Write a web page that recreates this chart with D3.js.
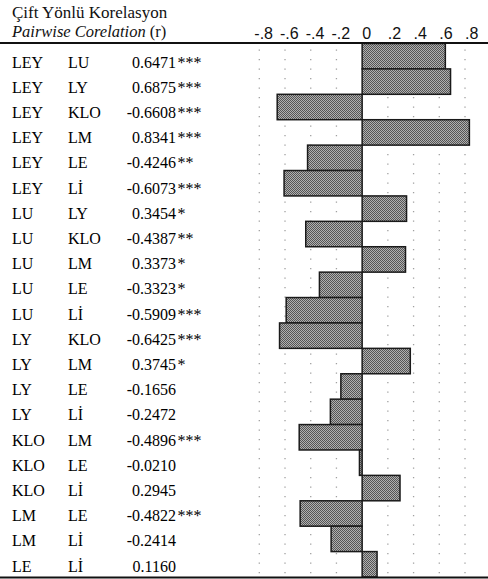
<!DOCTYPE html>
<html>
<head>
<meta charset="utf-8">
<script src="https://cdn.jsdelivr.net/npm/d3@7"></script>
<style>
    body { margin: 0; background: #fff; }
    svg { display: block; }
</style>
</head>
<body>
<div id="chart"></div>
<script>
"use strict";

// data
const var1 = ["LEY", "LEY", "LEY", "LEY", "LEY", "LEY", "LU", "LU", "LU", "LU", "LU", "LY", "LY", "LY", "LY", "KLO", "KLO", "KLO", "LM", "LM", "LE"];
const var2 = ["LU", "LY", "KLO", "LM", "LE", "Lİ", "LY", "KLO", "LM", "LE", "Lİ", "KLO", "LM", "LE", "Lİ", "LM", "LE", "Lİ", "LE", "Lİ", "Lİ"];
const corr = [0.6471, 0.6875, -0.6608, 0.8341, -0.4246, -0.6073, 0.3454, -0.4387, 0.3373, -0.3323, -0.5909, -0.6425, 0.3745, -0.1656, -0.2472, -0.4896, -0.0210, 0.2945, -0.4822, -0.2414, 0.1160];
const stars = ["***", "***", "***", "***", "**", "***", "*", "**", "*", "*", "***", "***", "*", "", "", "***", "", "", "***", "", ""];
const tickValues = [-0.8, -0.6, -0.4, -0.2, 0, 0.2, 0.4, 0.6, 0.8];
const tickLabels = ["-.8", "-.6", "-.4", "-.2", "0", ".2", ".4", ".6", ".8"];



// setting
const setting = {
    width: 488,
    height: 579,
    top: 43.5,
    bottom: 577,
    serif: "'Liberation Serif', 'Times New Roman', serif",
    sans: "'Liberation Sans', Arial, sans-serif",
    fontSize: 16
};

const rows = corr.map((d, i) => ({ a: var1[i], b: var2[i], r: d, s: stars[i], key: var1[i] + "-" + var2[i] }));



// scales
let scaleX = d3.scaleLinear()
.domain([-0.8, 0.8])
.range([259.3, 465]);

let scaleY = d3.scaleBand()
.domain(rows.map(d => d.key))
.range([setting.top, setting.bottom])
.padding(0);



// svg
let svg = d3.select("#chart").append("svg")
.attr("width", setting.width)
.attr("height", setting.height);

// checker fill of the bars
let pattern = svg.append("defs").append("pattern")
.attr("id", "checker")
.attr("width", 2)
.attr("height", 2)
.attr("patternUnits", "userSpaceOnUse");
pattern.append("rect").attr("width", 2).attr("height", 2).attr("fill", "#b0b0b0");
pattern.append("rect").attr("width", 1).attr("height", 1).attr("fill", "#555");
pattern.append("rect").attr("x", 1).attr("y", 1).attr("width", 1).attr("height", 1).attr("fill", "#555");



// title
svg.append("text")
.attr("x", 12)
.attr("y", 18)
.attr("font-family", setting.serif)
.attr("font-size", 17)
.attr("fill", "#111")
.text("Çift Yönlü Korelasyon");

let sub = svg.append("text")
.attr("x", 12)
.attr("y", 37)
.attr("font-family", setting.serif)
.attr("font-size", 16.5)
.attr("fill", "#111");
sub.append("tspan").attr("font-style", "italic").text("Pairwise Corelation");
sub.append("tspan").text(" (r)");



// x tick labels
svg.append("g")
.attr("class", "x_ticks")
.selectAll("text")
.data(tickValues)
.join("text")
.attr("x", d => scaleX(d) - (d < 0 ? 5 : 0))
.attr("y", 39)
.attr("font-family", setting.sans)
.attr("font-size", 16)
.attr("fill", "#111")
.text((d, i) => tickLabels[i]);



// dotted grid lines
svg.append("g")
.attr("class", "grid")
.selectAll("line")
.data(tickValues.filter(d => d != 0))
.join("line")
.attr("x1", d => scaleX(d))
.attr("x2", d => scaleX(d))
.attr("y1", setting.top + 6)
.attr("y2", setting.bottom)
.attr("stroke", "#a0a0a0")
.attr("stroke-width", 1.3)
.attr("stroke-dasharray", "1.3,8.2");



// bars
svg.append("g")
.attr("class", "bars")
.selectAll("rect")
.data(rows)
.join("rect")
.attr("x", d => scaleX(Math.min(0, d.r)))
.attr("y", d => scaleY(d.key))
.attr("width", d => Math.abs(scaleX(d.r) - scaleX(0)))
.attr("height", scaleY.bandwidth())
.attr("fill", "url(#checker)")
.attr("stroke", "#1a1a1a")
.attr("stroke-width", 1.5);



// table text
let table = svg.append("g")
.attr("class", "table")
.attr("font-family", setting.serif)
.attr("font-size", setting.fontSize)
.attr("fill", "#000");

let rowText = table.selectAll("g")
.data(rows)
.join("g")
.attr("transform", (d, i) => `translate(0, ${62 + i * 25.2 + 5.5})`);

rowText.append("text").attr("x", 12).text(d => d.a);
rowText.append("text").attr("x", 68).text(d => d.b);
rowText.append("text").attr("x", 176).attr("text-anchor", "end").text(d => d.r.toFixed(4));
rowText.append("text").attr("x", 177.5).attr("font-size", 16).text(d => d.s);



// rules
svg.append("line")
.attr("x1", 0).attr("x2", setting.width)
.attr("y1", 43).attr("y2", 43)
.attr("stroke", "#111")
.attr("stroke-width", 2);

svg.append("line")
.attr("x1", 0).attr("x2", setting.width)
.attr("y1", 577.5).attr("y2", 577.5)
.attr("stroke", "#111")
.attr("stroke-width", 2);
</script>
</body>
</html>
